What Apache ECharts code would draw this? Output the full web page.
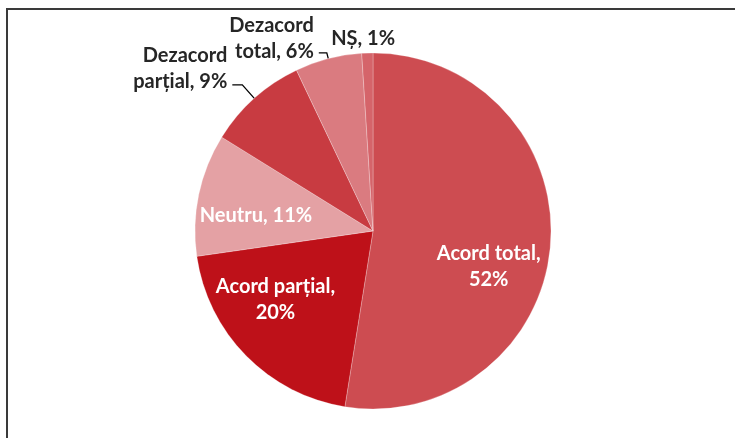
<!DOCTYPE html>
<html>
<head>
<meta charset="utf-8">
<script src="https://cdn.jsdelivr.net/npm/echarts@6/dist/echarts.min.js"></script>
<style>
  html, body { margin: 0; padding: 0; background: #fff; }
  #chart { width: 735px; height: 438px; }
</style>
</head>
<body>
<div id="chart"></div>
<script>
// categorii si valori (%)
var categories = ['Acord total', 'Acord parțial', 'Neutru', 'Dezacord parțial', 'Dezacord total', 'NȘ'];
var values = [52, 20, 11, 9, 6, 1];
var colors = ['#CD4C51', '#BE1119', '#E4A1A4', '#C83B41', '#DA7B80', '#D5646A'];

// etichete: in interior (alb) sau in exterior (negru)
var inside = [true, true, true, false, false, false];
var labelText = [
  'Acord total,\n52%',
  'Acord parțial,\n20%',
  'Neutru, 11%',
  'Dezacord\nparțial, 9%',
  'Dezacord\ntotal, 6%',
  'NȘ, 1%'
];
var labelOffsets = [[24, 28], [-32, 4], [-27, 3], [0, 0], [0, 0], [0, 0]];
var lineLen = [0, 0, 0, 18, 6, 10];
var lineLen2 = [0, 0, 0, 10, 8, 4];
var lineVisible = [false, false, false, true, true, false];
var labelShiftX = [0, 0, 0, 0, 0, 37];
var labelShiftY = [0, 0, 0, -16, -14, -5];

var chart = echarts.init(document.getElementById('chart'));

var data = categories.map(function (name, i) {
  return {
    name: name,
    value: values[i],
    itemStyle: { color: colors[i] },
    label: {
      formatter: labelText[i],
      position: inside[i] ? 'inside' : 'outside',
      color: inside[i] ? '#ffffff' : '#262626',
      offset: labelOffsets[i]
    },
    labelLine: {
      show: !inside[i],
      length: lineLen[i],
      length2: lineLen2[i],
      lineStyle: { opacity: lineVisible[i] ? 1 : 0 }
    }
  };
});

var option = {
  animation: false,
  backgroundColor: '#ffffff',
  graphic: [{
    type: 'polyline',
    shape: { points: [[7, 438], [7, 9], [735, 9]] },
    style: { stroke: '#3a3a3a', lineWidth: 2, fill: null }
  }],
  series: [{
    type: 'pie',
    center: [373, 231],
    radius: 178,
    startAngle: 90,
    clockwise: true,
    avoidLabelOverlap: false,
    itemStyle: { borderColor: 'rgba(255,255,255,0.5)', borderWidth: 0.5 },
    label: {
      fontFamily: 'Lato',
      fontWeight: 'bold',
      fontSize: 20,
      lineHeight: 26,
      align: 'center'
    },
    labelLine: {
      lineStyle: { color: '#000000', width: 1.3 }
    },
    labelLayout: function (params) {
      return { dx: labelShiftX[params.dataIndex], dy: labelShiftY[params.dataIndex] };
    },
    data: data
  }]
};

chart.setOption(option);
</script>
</body>
</html>
